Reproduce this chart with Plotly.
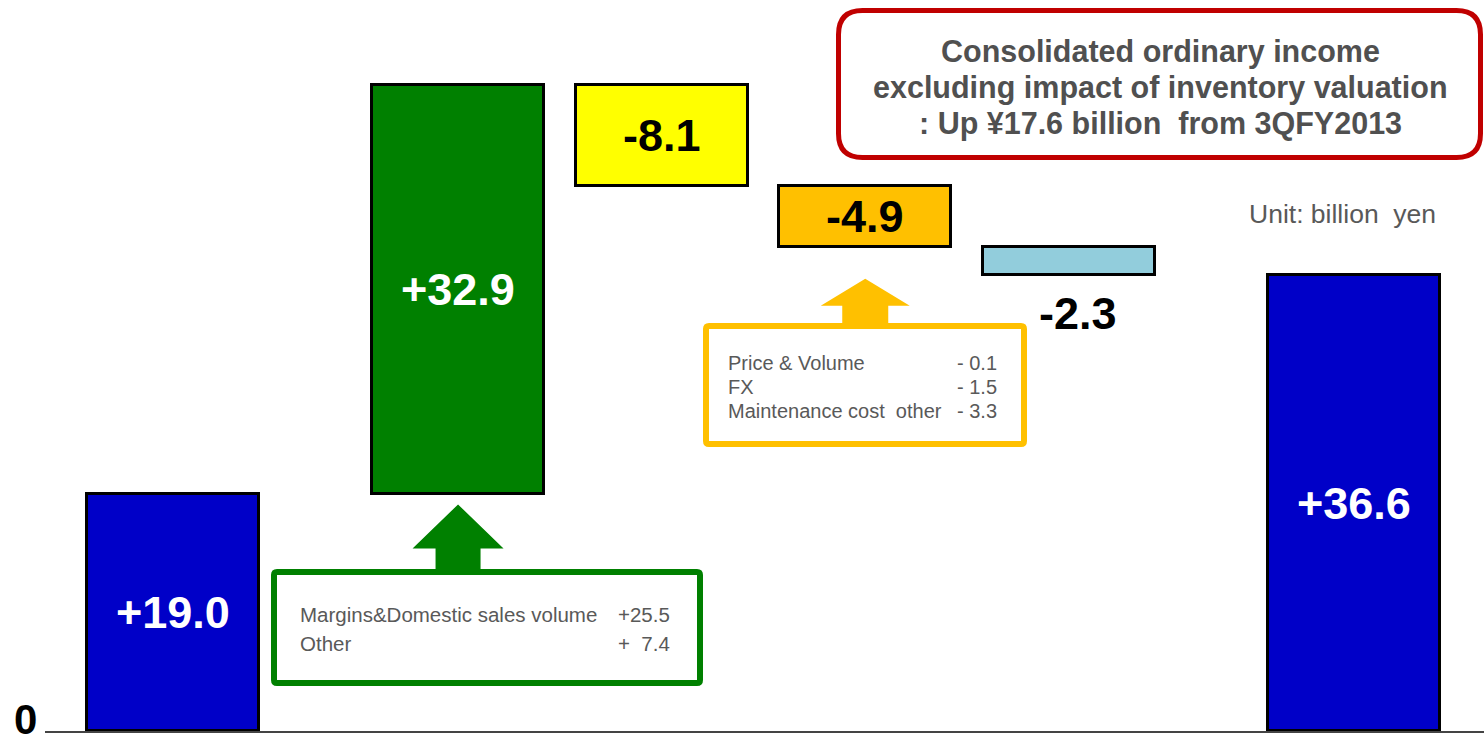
import plotly.graph_objects as go

# ---------------- data ----------------
categories = ["3QFY2013", "Refining & marketing", "Petrochemicals", "E&P", "Other", "3QFY2014"]
values = [19.0, 32.9, -8.1, -4.9, -2.3, 36.6]
measures = ["total", "relative", "relative", "relative", "relative", "total"]

green_items = ["Margins&Domestic sales volume", "Other"]
green_values = ["+25.5", "+  7.4"]
orange_items = ["Price & Volume", "FX", "Maintenance cost  other"]
orange_values = ["- 0.1", "- 1.5", "- 3.3"]

title_lines = ["Consolidated ordinary income",
               "excluding impact of inventory valuation",
               ": Up ¥17.6 billion  from 3QFY2013"]
unit_text = "Unit: billion  yen"
zero_label = "0"

# ---------------- layout / style ----------------
bar_centers = [0, 1.4, 2.4, 3.4, 4.4, 5.8]
bar_colors = ["#0000C8", "#008000", "#FFFF00", "#FFC000", "#92CDDC", "#0000C8"]
label_colors = ["white", "white", "black", "black", "black", "white"]
FONT = "Arial, Liberation Sans, sans-serif"

W, H = 1484, 746
ML, MR, MT, MB = 45, 0, 0, 15
PW, PH = W - ML - MR, H - MT - MB
x_range = [-0.6287, 6.439]
y_range = [0, PH / 12.45]
ppx = PW / (x_range[1] - x_range[0])
ppy = PH / (y_range[1] - y_range[0])


def dx(px):
    return x_range[0] + (px - ML) / ppx


def dy(py):
    return y_range[0] + (MT + PH - py) / ppy


def to_py(v):
    return MT + PH - (v - y_range[0]) * ppy


def to_px(x):
    return ML + (x - x_range[0]) * ppx


# waterfall bases
bases, heights = [], []
running = 0.0
for v, m in zip(values, measures):
    if m == "total":
        bases.append(0.0)
        heights.append(v)
        running = v
    else:
        bases.append(running)
        heights.append(v)
        running += v

fig = go.Figure()
fig.add_trace(go.Bar(
    x=bar_centers, y=heights, base=bases, width=0.845,
    marker=dict(color=bar_colors, line=dict(color="black", width=3)),
    hovertext=categories, showlegend=False,
))

annotations = []
shapes = []

# bar labels
for i, (v, b) in enumerate(zip(values, bases)):
    txt = f"<b>{v:+.1f}</b>"
    if i == 4:
        annotations.append(dict(x=bar_centers[i], y=min(b, b + v), text=txt, showarrow=False,
                                yshift=-38, xshift=9, font=dict(family=FONT, size=45, color="black"),
                                xref="x", yref="y"))
    else:
        annotations.append(dict(x=bar_centers[i], y=b + v / 2, text=txt, showarrow=False,
                                font=dict(family=FONT, size=45, color=label_colors[i]),
                                xref="x", yref="y"))

# zero label
annotations.append(dict(x=0, xref="paper", y=0, yref="y", text=f"<b>{zero_label}</b>",
                        xanchor="right", xshift=-7, yshift=12, showarrow=False, borderpad=0,
                        font=dict(family=FONT, size=42, color="black")))


def path_from(points, close=True):
    s = "M " + " L ".join(f"{dx(px):.5f},{dy(py):.5f}" for px, py in points)
    return s + (" Z" if close else "")


def rrect(x0, y0, x1, y1, r):
    P = lambda px, py: f"{dx(px):.5f},{dy(py):.5f}"
    return (f"M {P(x0 + r, y0)} L {P(x1 - r, y0)} Q {P(x1, y0)} {P(x1, y0 + r)} "
            f"L {P(x1, y1 - r)} Q {P(x1, y1)} {P(x1 - r, y1)} L {P(x0 + r, y1)} "
            f"Q {P(x0, y1)} {P(x0, y1 - r)} L {P(x0, y0 + r)} Q {P(x0, y0)} {P(x0 + r, y0)} Z")


def up_arrow(cx, tip, head_h, hw, sw, bottom):
    hb = tip + head_h
    return path_from([(cx, tip), (cx + hw, hb), (cx + sw, hb), (cx + sw, bottom),
                      (cx - sw, bottom), (cx - sw, hb), (cx - hw, hb)])


# green arrow + box
gcx = to_px(bar_centers[1])
g_tip = to_py(bases[1]) + 10
shapes.append(dict(type="path", path=up_arrow(gcx, g_tip, 44, 45.5, 22.5, 573),
                   fillcolor="#008000", line=dict(width=0), xref="x", yref="y"))
shapes.append(dict(type="path", path=rrect(274, 572, 700, 683, 3),
                   fillcolor="white", line=dict(color="#008000", width=6), xref="x", yref="y"))

# orange arrow + box
ocx = to_px(bar_centers[3])
o_tip = to_py(bases[3] + values[3]) + 32
shapes.append(dict(type="path", path=up_arrow(ocx, o_tip, 27, 44.5, 23, 327),
                   fillcolor="#FFC000", line=dict(width=0), xref="x", yref="y"))
shapes.append(dict(type="path", path=rrect(706, 326, 1024, 444, 3),
                   fillcolor="white", line=dict(color="#FFC000", width=6), xref="x", yref="y"))

# red title box
shapes.append(dict(type="path", path=rrect(838.5, 10.5, 1480.5, 157.5, 24),
                   fillcolor="white", line=dict(color="#C00000", width=5), xref="x", yref="y"))

# box texts
for k, (lab, val) in enumerate(zip(green_items, green_values)):
    py = 614 + 29 * k
    annotations.append(dict(x=dx(298), y=dy(py), text=lab, xanchor="left", showarrow=False,
                            font=dict(family=FONT, size=20.5, color="#595959"), xref="x", yref="y"))
    annotations.append(dict(x=dx(672), y=dy(py), text=val, xanchor="right", showarrow=False,
                            font=dict(family=FONT, size=20.5, color="#595959"), xref="x", yref="y"))
for k, (lab, val) in enumerate(zip(orange_items, orange_values)):
    py = 363 + 24 * k
    annotations.append(dict(x=dx(726), y=dy(py), text=lab, xanchor="left", showarrow=False,
                            font=dict(family=FONT, size=20, color="#595959"), xref="x", yref="y"))
    annotations.append(dict(x=dx(999), y=dy(py), text=val, xanchor="right", showarrow=False,
                            font=dict(family=FONT, size=20, color="#595959"), xref="x", yref="y"))

for k, line in enumerate(title_lines):
    annotations.append(dict(x=dx(1160), y=dy(51 + 36 * k), text=f"<b>{line}</b>", showarrow=False,
                            font=dict(family=FONT, size=30.5, color="#505050"), xref="x", yref="y"))

annotations.append(dict(x=dx(1438), y=dy(214), text=unit_text, xanchor="right", showarrow=False,
                        font=dict(family=FONT, size=26.5, color="#595959"), xref="x", yref="y"))

fig.update_layout(
    width=W, height=H,
    margin=dict(l=ML, r=MR, t=MT, b=MB, pad=0),
    paper_bgcolor="white", plot_bgcolor="white",
    bargap=0,
    xaxis=dict(range=x_range, showgrid=False, zeroline=False, showticklabels=False,
               showline=True, linecolor="#444444", linewidth=2, ticks="", layer="below traces",
               fixedrange=True),
    yaxis=dict(range=y_range, showgrid=False, zeroline=False, showline=False,
               showticklabels=False, ticks="", fixedrange=True),
    shapes=shapes,
    annotations=annotations,
    showlegend=False,
)

fig.write_html("out.html", config={"displayModeBar": False})
